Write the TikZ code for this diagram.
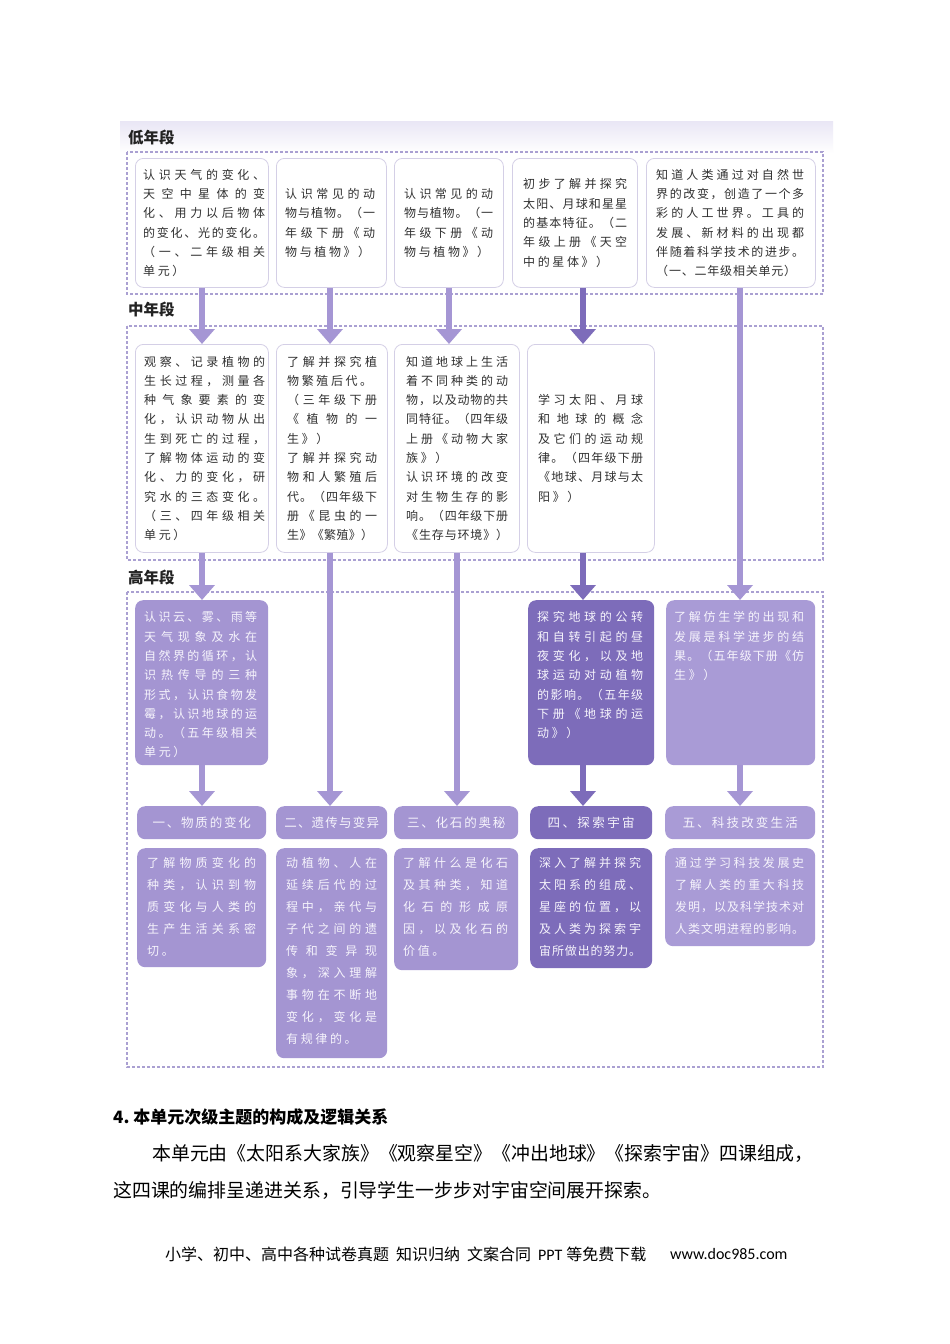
\documentclass[tikz,border=0pt]{standalone}
\usepackage{fontspec}
\setmainfont{Noto Sans CJK SC}
\newfontfamily\latf{Carlito}
\usetikzlibrary{arrows.meta}
\definecolor{dashc}{RGB}{170,160,210}
\definecolor{bordc}{RGB}{212,207,230}
\definecolor{lpur}{RGB}{164,149,210}
\definecolor{lpurb}{RGB}{169,155,214}
\definecolor{dpur}{RGB}{125,108,186}
\definecolor{arrl}{RGB}{165,150,212}
\definecolor{txtd}{RGB}{48,48,48}
\definecolor{txtw}{RGB}{246,244,252}
\definecolor{bandc}{RGB}{233,230,245}
\definecolor{lbl}{RGB}{35,35,35}
% spreading of CJK lines
\def\spr#1{#1\futurelet\spnext\sprchk}
\def\sprchk{\ifx\spnext\relax\expandafter\spgobble\else\spglue\expandafter\spr\fi}
\def\spgobble#1{}
\newcommand\jl[2]{\makebox[#1pt][s]{\def\spglue{\hfil}\spr#2\relax}}
\newcommand\ntl[2][2.6]{\mbox{\def\spglue{\hskip#1pt\relax}\spr#2\relax}}
\begin{document}
\begin{tikzpicture}[x=1pt,y=-1pt,
  zone/.style={draw=dashc,line width=1.3pt,dash pattern=on 3pt off 2pt},
  wbox/.style={draw=bordc,line width=0.8pt,fill=white,rounded corners=8pt,anchor=north west,inner sep=0pt},
  pbox/.style={fill=lpur,rounded corners=8pt,anchor=north west,inner sep=0pt},
  pboxb/.style={fill=lpurb,rounded corners=8pt,anchor=north west,inner sep=0pt},
  dbox/.style={fill=dpur,rounded corners=8pt,anchor=north west,inner sep=0pt},
  wt/.style={text=txtd,font=\fontsize{12}{19.3}\selectfont,align=left,inner sep=0pt,anchor=west},
  pt/.style={text=txtw,font=\fontsize{12}{19.3}\selectfont,align=left,inner sep=0pt,anchor=north west},
  et/.style={text=txtw,font=\fontsize{12}{22}\selectfont,align=left,inner sep=0pt,anchor=north west},
  tt/.style={text=txtw,font=\fontsize{12.5}{15}\selectfont,inner sep=0pt},
  seg/.style={text=lbl,font=\bfseries\fontsize{15.5}{18}\selectfont,anchor=west,inner sep=0pt},
  flowl/.style={draw=arrl,line width=6.5pt,-{Triangle[width=25pt,length=15pt]}},
  flowd/.style={draw=dpur,line width=6.5pt,-{Triangle[width=25pt,length=15pt]}}
]
\fill[white] (0,0) rectangle (950,1344);
\useasboundingbox (0,0) rectangle (950,1344);

% header band and segment labels
\fill[top color=bandc,bottom color=white] (120,121) rectangle (833,153);
\node[seg] (s1) at (128,138) {低年段};
\node[seg] (s2) at (128,310) {中年段};
\node[seg] (s3) at (128,578) {高年段};

% dashed zones
\draw[zone] (127,152) rectangle (823,294);
\draw[zone] (127,326) rectangle (823,560);
\draw[zone] (127,592) rectangle (823,1067);

% column coordinates
\coordinate (k1) at (202,0);
\coordinate (k2) at (330,0);
\coordinate (k3) at (449,0);
\coordinate (k3b) at (457,0);
\coordinate (k4) at (583,0);
\coordinate (k5) at (740,0);

% row 1
\node[wbox,minimum width=133,minimum height=129] (a1) at (135,158) {};
\node[wbox,minimum width=110,minimum height=129] (a2) at (276,158) {};
\node[wbox,minimum width=109,minimum height=129] (a3) at (394,158) {};
\node[wbox,minimum width=125,minimum height=129] (a4) at (512,158) {};
\node[wbox,minimum width=169,minimum height=129] (a5) at (646,158) {};

% row 2
\node[wbox,minimum width=133,minimum height=208] (b1) at (135,344) {};
\node[wbox,minimum width=111,minimum height=208] (b2) at (276,344) {};
\node[wbox,minimum width=125,minimum height=208] (b3) at (394,344) {};
\node[wbox,minimum width=127,minimum height=208] (b4) at (527,344) {};

% row 3
\node[pbox,minimum width=133,minimum height=165] (c1) at (135,600) {};
\node[dbox,minimum width=126,minimum height=165] (c4) at (528,600) {};
\node[pboxb,minimum width=149,minimum height=165] (c5) at (666,600) {};

% row 4
\node[pbox,minimum width=129,minimum height=33] (d1) at (137,806) {};
\node[pbox,minimum width=111,minimum height=33] (d2) at (276,806) {};
\node[pbox,minimum width=124,minimum height=33] (d3) at (394,806) {};
\node[dbox,minimum width=122,minimum height=33] (d4) at (530,806) {};
\node[pboxb,minimum width=150,minimum height=33] (d5) at (665,806) {};

% row 5
\node[pbox,minimum width=129,minimum height=119] (e1) at (137,848) {};
\node[pbox,minimum width=111,minimum height=210] (e2) at (276,848) {};
\node[pbox,minimum width=124,minimum height=122] (e3) at (394,848) {};
\node[dbox,minimum width=122,minimum height=120] (e4) at (530,848) {};
\node[pboxb,minimum width=150,minimum height=98] (e5) at (665,848) {};

% connectors
\draw[flowl] (k1 |- a1.south) -- (k1 |- b1.north);
\draw[flowl] (k2 |- a2.south) -- (k2 |- b2.north);
\draw[flowl] (k3 |- a3.south) -- (k3 |- b3.north);
\draw[flowd] (k4 |- a4.south) -- (k4 |- b4.north);
\draw[flowl] (k5 |- a5.south) -- (k5 |- c5.north);
\draw[flowl] (k1 |- b1.south) -- (k1 |- c1.north);
\draw[flowl] (k2 |- b2.south) -- (k2 |- d2.north);
\draw[flowl] (k3b |- b3.south) -- (k3b |- d3.north);
\draw[flowd] (k4 |- b4.south) -- (k4 |- c4.north);
\draw[flowl] (k1 |- c1.south) -- (k1 |- d1.north);
\draw[flowd] (k4 |- c4.south) -- (k4 |- d4.north);
\draw[flowl] (k5 |- c5.south) -- (k5 |- d5.north);

% row 1 texts
\node[wt] (ta1) at ([xshift=8]a1.west) {\jl{122}{认识天气的变化、}\\\jl{122}{天空中星体的变}\\\jl{122}{化、用力以后物体}\\\jl{122}{的变化、光的变化。}\\\jl{122}{（一、二年级相关}\\\ntl{单元）}};
\node[wt] (ta2) at ([xshift=9]a2.west) {\jl{90}{认识常见的动}\\\jl{90}{物与植物。（一}\\\jl{90}{年级下册《动}\\\ntl{物与植物》）}};
\node[wt] (ta3) at ([xshift=10]a3.west) {\jl{89}{认识常见的动}\\\jl{89}{物与植物。（一}\\\jl{89}{年级下册《动}\\\ntl{物与植物》）}};
\node[wt] (ta4) at ([xshift=11]a4.west) {\jl{104}{初步了解并探究}\\\jl{104}{太阳、月球和星星}\\\jl{104}{的基本特征。（二}\\\jl{104}{年级上册《天空}\\\ntl{中的星体》）}};
\node[wt] (ta5) at ([xshift=10]a5.west) {\jl{148}{知道人类通过对自然世}\\\jl{148}{界的改变，创造了一个多}\\\jl{148}{彩的人工世界。工具的}\\\jl{148}{发展、新材料的出现都}\\\jl{148}{伴随着科学技术的进步。}\\\jl{140}{（一、二年级相关单元）}};

% row 2 texts
\node[wt] (tb1) at ([xshift=9]b1.west) {\jl{121}{观察、记录植物的}\\\jl{121}{生长过程，测量各}\\\jl{121}{种气象要素的变}\\\jl{121}{化，认识动物从出}\\\jl{121}{生到死亡的过程，}\\\jl{121}{了解物体运动的变}\\\jl{121}{化、力的变化，研}\\\jl{121}{究水的三态变化。}\\\jl{121}{（三、四年级相关}\\\ntl{单元）}};
\node[wt] (tb2) at ([xshift=11]b2.west) {\jl{90}{了解并探究植}\\\ntl{物繁殖后代。}\\\jl{90}{（三年级下册}\\\jl{90}{《植物的一}\\\ntl{生》）}\\\jl{90}{了解并探究动}\\\jl{90}{物和人繁殖后}\\\jl{90}{代。（四年级下}\\\jl{90}{册《昆虫的一}\\\jl{86}{生》《繁殖》）}};
\node[wt] (tb3) at ([xshift=12]b3.west) {\jl{102}{知道地球上生活}\\\jl{102}{着不同种类的动}\\\jl{102}{物，以及动物的共}\\\jl{102}{同特征。（四年级}\\\jl{102}{上册《动物大家}\\\ntl{族》）}\\\jl{102}{认识环境的改变}\\\jl{102}{对生物生存的影}\\\jl{102}{响。（四年级下册}\\\jl{102}{《生存与环境》）}};
\node[wt] (tb4) at ([xshift=11]b4.west) {\jl{105}{学习太阳、月球}\\\jl{105}{和地球的概念}\\\jl{105}{及它们的运动规}\\\jl{105}{律。（四年级下册}\\\jl{105}{《地球、月球与太}\\\ntl{阳》）}};

% row 3 texts
\node[pt] (tc1) at ([shift={(9,11.5)}]c1.north west) {\jl{113}{认识云、雾、雨等}\\\jl{113}{天气现象及水在}\\\jl{113}{自然界的循环，认}\\\jl{113}{识热传导的三种}\\\jl{113}{形式，认识食物发}\\\jl{113}{霉，认识地球的运}\\\jl{113}{动。（五年级相关}\\\ntl{单元）}};
\node[pt] (tc4) at ([shift={(9,11.5)}]c4.north west) {\jl{106}{探究地球的公转}\\\jl{106}{和自转引起的昼}\\\jl{106}{夜变化，以及地}\\\jl{106}{球运动对动植物}\\\jl{106}{的影响。（五年级}\\\jl{106}{下册《地球的运}\\\ntl{动》）}};
\node[pt] (tc5) at ([shift={(8,11.5)}]c5.north west) {\jl{130}{了解仿生学的出现和}\\\jl{130}{发展是科学进步的结}\\\jl{130}{果。（五年级下册《仿}\\\ntl{生》）}};

% row 4 titles
\node[tt] (td1) at (d1.center) {\ntl[1.8]{一、物质的变化}};
\node[tt] (td2) at (d2.center) {\ntl[1.2]{二、遗传与变异}};
\node[tt] (td3) at (d3.center) {\ntl[1.8]{三、化石的奥秘}};
\node[tt] (td4) at (d4.center) {\ntl[2.4]{四、探索宇宙}};
\node[tt] (td5) at (d5.center) {\ntl[2.2]{五、科技改变生活}};

% row 5 texts
\node[et] (te1) at ([shift={(10,9.5)}]e1.north west) {\jl{109}{了解物质变化的}\\\jl{109}{种类，认识到物}\\\jl{109}{质变化与人类的}\\\jl{109}{生产生活关系密}\\\ntl{切。}};
\node[et] (te2) at ([shift={(10,9.5)}]e2.north west) {\jl{91}{动植物、人在}\\\jl{91}{延续后代的过}\\\jl{91}{程中，亲代与}\\\jl{91}{子代之间的遗}\\\jl{91}{传和变异现}\\\jl{91}{象，深入理解}\\\jl{91}{事物在不断地}\\\jl{91}{变化，变化是}\\\ntl{有规律的。}};
\node[et] (te3) at ([shift={(9,9.5)}]e3.north west) {\jl{105}{了解什么是化石}\\\jl{105}{及其种类，知道}\\\jl{105}{化石的形成原}\\\jl{105}{因，以及化石的}\\\ntl{价值。}};
\node[et] (te4) at ([shift={(9,9.5)}]e4.north west) {\jl{102}{深入了解并探究}\\\jl{102}{太阳系的组成、}\\\jl{102}{星座的位置，以}\\\jl{102}{及人类为探索宇}\\\jl{102}{宙所做出的努力。}};
\node[et] (te5) at ([shift={(10,9.5)}]e5.north west) {\jl{129}{通过学习科技发展史}\\\jl{129}{了解人类的重大科技}\\\jl{129}{发明，以及科学技术对}\\\jl{129}{人类文明进程的影响。}};

% text below the diagram
\node[anchor=west,inner sep=0pt,font=\bfseries\fontsize{17}{20}\selectfont] (h4) at (113,1117) {4.~本单元次级主题的构成及逻辑关系};
\node[anchor=west,inner sep=0pt,font=\fontsize{18.9}{22}\selectfont] (p1) at (152,1153) {本单元由《太阳系大家族》《观察星空》《冲出地球》《探索宇宙》四课组成，};
\node[anchor=west,inner sep=0pt,font=\fontsize{18.9}{22}\selectfont] (p2) at (113,1190) {这四课的编排呈递进关系，引导学生一步步对宇宙空间展开探索。};
\node[anchor=west,inner sep=0pt,font=\fontsize{16}{18}\selectfont] (f1) at (165,1254) {小学、初中、高中各种试卷真题\hspace{7pt}知识归纳\hspace{7pt}文案合同\hspace{7pt}{\latf PPT}\hspace{4pt}等免费下载};
\node[anchor=west,inner sep=0pt,font=\latf\fontsize{16}{18}\selectfont] (f2) at (670,1254) {www.doc985.com};
\end{tikzpicture}
\end{document}
